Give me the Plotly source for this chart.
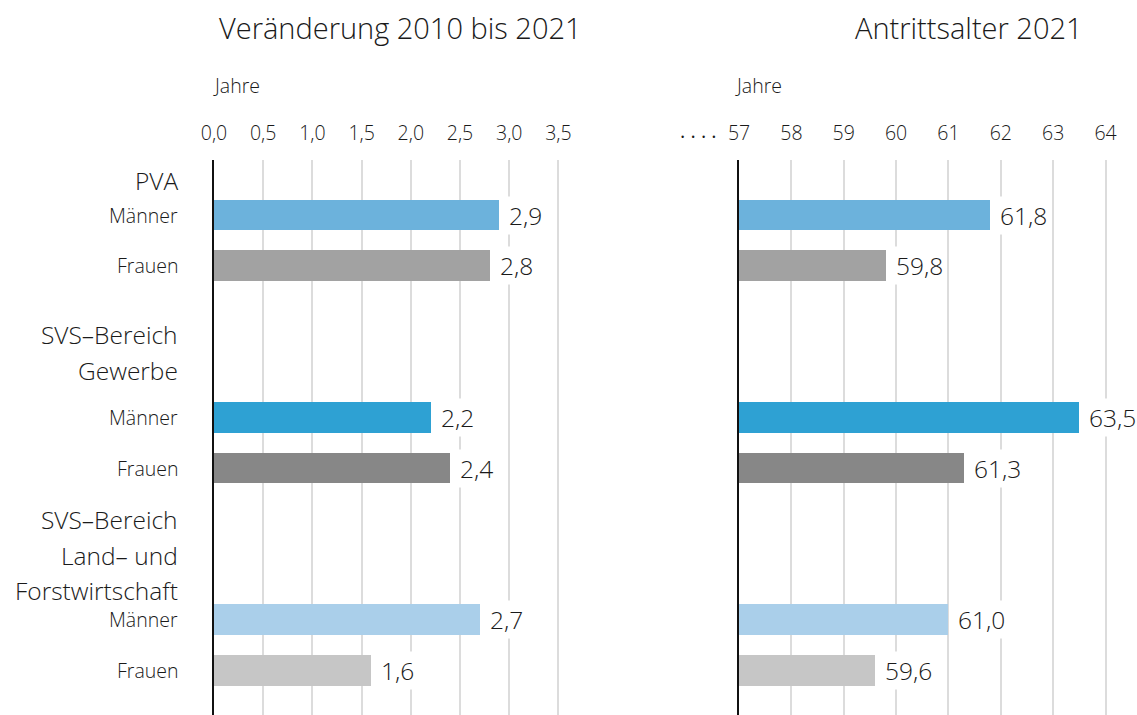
import plotly.graph_objects as go

# ---------------- data ----------------
groups = ["PVA", "SVS–Bereich<br>Gewerbe", "SVS–Bereich<br>Land– und<br>Forstwirtschaft"]
sexes = ["Männer", "Frauen"]
change_2010_2021 = [2.9, 2.8, 2.2, 2.4, 2.7, 1.6]   # Veränderung 2010 bis 2021 (Jahre)
age_2021 = [61.8, 59.8, 63.5, 61.3, 61.0, 59.6]      # Antrittsalter 2021 (Jahre)
bar_colors = ["#6CB2DC", "#A2A2A2", "#2EA1D3", "#878787", "#AACFEA", "#C6C6C6"]
left_ticks = [0.0, 0.5, 1.0, 1.5, 2.0, 2.5, 3.0, 3.5]
right_ticks = [57, 58, 59, 60, 61, 62, 63, 64]

# ---------------- layout helpers ----------------
FONT = "Open Sans"
WT = 300
TXT = "#1a1a1a"
W, H = 1137, 715
TOP = 160

def f(size, weight=WT):
    return dict(size=size, color=TXT, family=FONT, weight=weight)

# row slots: each group = header area + Männer + Frauen + spacer
row_labels, row_pos = [], []
for g in range(len(groups)):
    for s, sx in enumerate(sexes):
        row_labels.append(sx)
        row_pos.append(1 + 4 * g + s)
header_pos = [0.31, 3.72, 7.72]  # vertical centre of the group headings (slot units)
y_range = [10.88, -0.087]

def fmt(v):
    return f"{v:.1f}".replace(".", ",")

fig = go.Figure()
fig.add_trace(go.Bar(x=change_2010_2021, y=row_pos, orientation="h",
                     marker=dict(color=bar_colors, line=dict(width=0)),
                     width=0.61, xaxis="x", yaxis="y", hoverinfo="skip"))
fig.add_trace(go.Bar(x=[v - right_ticks[0] for v in age_2021], base=right_ticks[0],
                     y=row_pos, orientation="h",
                     marker=dict(color=bar_colors, line=dict(width=0)),
                     width=0.61, xaxis="x2", yaxis="y2", hoverinfo="skip"))

ann = []
# value labels
for v, p in zip(change_2010_2021, row_pos):
    ann.append(dict(x=v, y=p, xref="x", yref="y", text=fmt(v), showarrow=False,
                    xanchor="left", yanchor="middle", xshift=7, bgcolor="white",
                    borderpad=2, font=f(24.5, 350)))
for v, p in zip(age_2021, row_pos):
    ann.append(dict(x=v, y=p, xref="x2", yref="y2", text=fmt(v), showarrow=False,
                    xanchor="left", yanchor="middle", xshift=7, bgcolor="white",
                    borderpad=2, font=f(24.5, 350)))
# row labels
for lab, p in zip(row_labels, row_pos):
    ann.append(dict(x=0, y=p, xref="x", yref="y", text=lab, showarrow=False,
                    xanchor="right", yanchor="middle", xshift=-34, font=f(19.5)))
# group headers
for gname, hp in zip(groups, header_pos):
    lines = gname.split("<br>")
    n = len(lines)
    for i, ln in enumerate(lines):
        ann.append(dict(x=0, y=hp, xref="x", yref="y", text=ln, showarrow=False,
                        xanchor="right", yanchor="middle", xshift=-34,
                        yshift=-(i - (n - 1) / 2) * 35.5, font=f(24.5)))
# titles and units
ann.append(dict(x=400 / W, y=1, xref="paper", yref="paper", yshift=TOP - 27,
                text="Veränderung 2010 bis 2021", showarrow=False, xanchor="center",
                yanchor="middle", font=f(29)))
ann.append(dict(x=969 / W, y=1, xref="paper", yref="paper", yshift=TOP - 27,
                text="Antrittsalter 2021", showarrow=False, xanchor="center",
                yanchor="middle", font=f(29)))
ann.append(dict(x=0, y=1, xref="x", yref="paper", yshift=TOP - 85, xshift=-3,
                text="Jahre", showarrow=False, xanchor="left", yanchor="middle",
                font=f(19.5)))
ann.append(dict(x=right_ticks[0], y=1, xref="x2", yref="paper", yshift=TOP - 85, xshift=-6,
                text="Jahre", showarrow=False, xanchor="left", yanchor="middle",
                font=f(19.5)))
ann.append(dict(x=right_ticks[0], y=1, xref="x2", yref="paper", yshift=TOP - 136, xshift=-20,
                text="· · · ·", showarrow=False, xanchor="right", yanchor="middle",
                font=f(20, 400)))

axis_common = dict(side="top", showgrid=True, gridcolor="#DCDCDC", gridwidth=2,
                   zeroline=False, ticks="", showline=False, automargin=False,
                   tickfont=f(19.5), ticklabelstandoff=15, fixedrange=True)

fig.update_layout(
    width=W, height=H,
    margin=dict(l=0, r=0, t=TOP, b=0, pad=0),
    plot_bgcolor="white", paper_bgcolor="white",
    separators=",.",
    showlegend=False,
    bargap=0,
    xaxis=dict(domain=[214 / W, 585 / W], range=[0, 3.77], tickvals=left_ticks,
               tickformat=".1f", anchor="y", **axis_common),
    xaxis2=dict(domain=[739 / W, 1.0], range=[57, 64.6], tickvals=right_ticks,
                anchor="y2", **axis_common),
    yaxis=dict(domain=[0, 1], range=y_range, anchor="x", showticklabels=False,
               showgrid=False, zeroline=False, showline=True, linecolor="#111111",
               linewidth=2, fixedrange=True, automargin=False),
    yaxis2=dict(domain=[0, 1], range=y_range, anchor="x2", showticklabels=False,
                showgrid=False, zeroline=False, showline=True, linecolor="#111111",
                linewidth=2, fixedrange=True, automargin=False),
    annotations=ann,
    font=dict(family=FONT, color=TXT, weight=WT),
)

fig.write_html("out.html", config={"displayModeBar": False},
               post_script="document.body.style.margin='0';document.body.style.overflow='hidden';")
